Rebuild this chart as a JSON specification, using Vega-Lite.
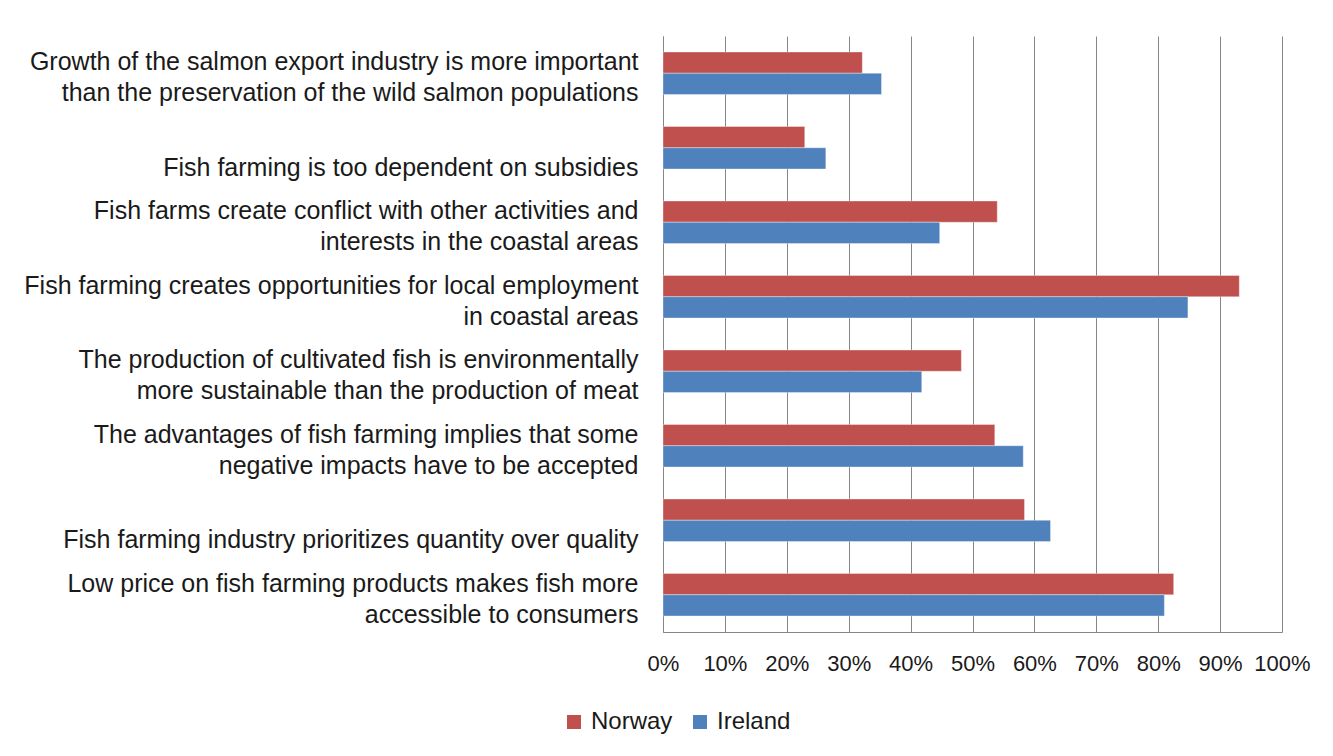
{
  "$schema": "https://vega.github.io/schema/vega-lite/v6.json",
  "autosize": "none",
  "padding": {"left": 663, "top": 36, "right": 51, "bottom": 124},
  "width": 619,
  "height": 596,
  "background": "white",
  "data": {"values": [
    {"statement": "Growth of the salmon export industry is more important|than the preservation of the wild salmon populations", "country": "Norway", "share": 0.322},
    {"statement": "Growth of the salmon export industry is more important|than the preservation of the wild salmon populations", "country": "Ireland", "share": 0.353},
    {"statement": "|Fish farming is too dependent on subsidies", "country": "Norway", "share": 0.229},
    {"statement": "|Fish farming is too dependent on subsidies", "country": "Ireland", "share": 0.263},
    {"statement": "Fish farms create conflict with other activities and|interests in the coastal areas", "country": "Norway", "share": 0.540},
    {"statement": "Fish farms create conflict with other activities and|interests in the coastal areas", "country": "Ireland", "share": 0.447},
    {"statement": "Fish farming creates opportunities for local employment|in coastal areas", "country": "Norway", "share": 0.931},
    {"statement": "Fish farming creates opportunities for local employment|in coastal areas", "country": "Ireland", "share": 0.848},
    {"statement": "The production of cultivated fish is environmentally|more sustainable than the production of meat", "country": "Norway", "share": 0.482},
    {"statement": "The production of cultivated fish is environmentally|more sustainable than the production of meat", "country": "Ireland", "share": 0.418},
    {"statement": "The advantages of fish farming implies that some|negative impacts have to be accepted", "country": "Norway", "share": 0.536},
    {"statement": "The advantages of fish farming implies that some|negative impacts have to be accepted", "country": "Ireland", "share": 0.582},
    {"statement": "|Fish farming industry prioritizes quantity over quality", "country": "Norway", "share": 0.584},
    {"statement": "|Fish farming industry prioritizes quantity over quality", "country": "Ireland", "share": 0.626},
    {"statement": "Low price on fish farming products makes fish more|accessible to consumers", "country": "Norway", "share": 0.825},
    {"statement": "Low price on fish farming products makes fish more|accessible to consumers", "country": "Ireland", "share": 0.810}
  ]},
  "mark": {"type": "bar", "stroke": "white", "strokeOpacity": 0.35, "strokeWidth": 1},
  "encoding": {
    "y": {
      "field": "statement", "type": "nominal", "sort": null,
      "scale": {"paddingInner": 0.43, "paddingOuter": 0.215},
      "axis": {
        "title": null,
        "labelExpr": "split(datum.value, '|')",
        "labelFont": "Liberation Sans",
        "labelFontSize": 25,
        "labelColor": "#1a1a1a",
        "labelLineHeight": 31,
        "labelLimit": 700,
        "labelPadding": 25,
        "labelOffset": -11,
        "ticks": false,
        "domainColor": "#868686",
        "grid": false
      }
    },
    "yOffset": {"field": "country", "type": "nominal", "sort": ["Norway", "Ireland"]},
    "x": {
      "field": "share", "type": "quantitative",
      "scale": {"domain": [0, 1], "nice": false},
      "axis": {
        "title": null,
        "format": ".0%",
        "values": [0, 0.1, 0.2, 0.3, 0.4, 0.5, 0.6, 0.7, 0.8, 0.9, 1],
        "labelFont": "Liberation Sans",
        "labelFontSize": 22,
        "labelColor": "#1a1a1a",
        "labelPadding": 21,
        "ticks": false,
        "domainColor": "#868686",
        "grid": true,
        "gridColor": "#868686",
        "gridOpacity": 1,
        "labelFlush": false,
        "labelOverlap": false
      }
    },
    "color": {
      "field": "country", "type": "nominal",
      "scale": {"domain": ["Norway", "Ireland"], "range": ["#C0504D", "#4F81BD"]},
      "legend": {
        "title": null,
        "orient": "none",
        "direction": "horizontal",
        "legendX": -101,
        "legendY": 674,
        "symbolType": "square",
        "symbolSize": 196,
        "symbolStrokeWidth": 0,
        "labelFont": "Liberation Sans",
        "labelFontSize": 24,
        "labelColor": "#1a1a1a",
        "labelOffset": 5,
        "columnPadding": 15
      }
    }
  },
  "config": {"view": {"stroke": null}}
}
